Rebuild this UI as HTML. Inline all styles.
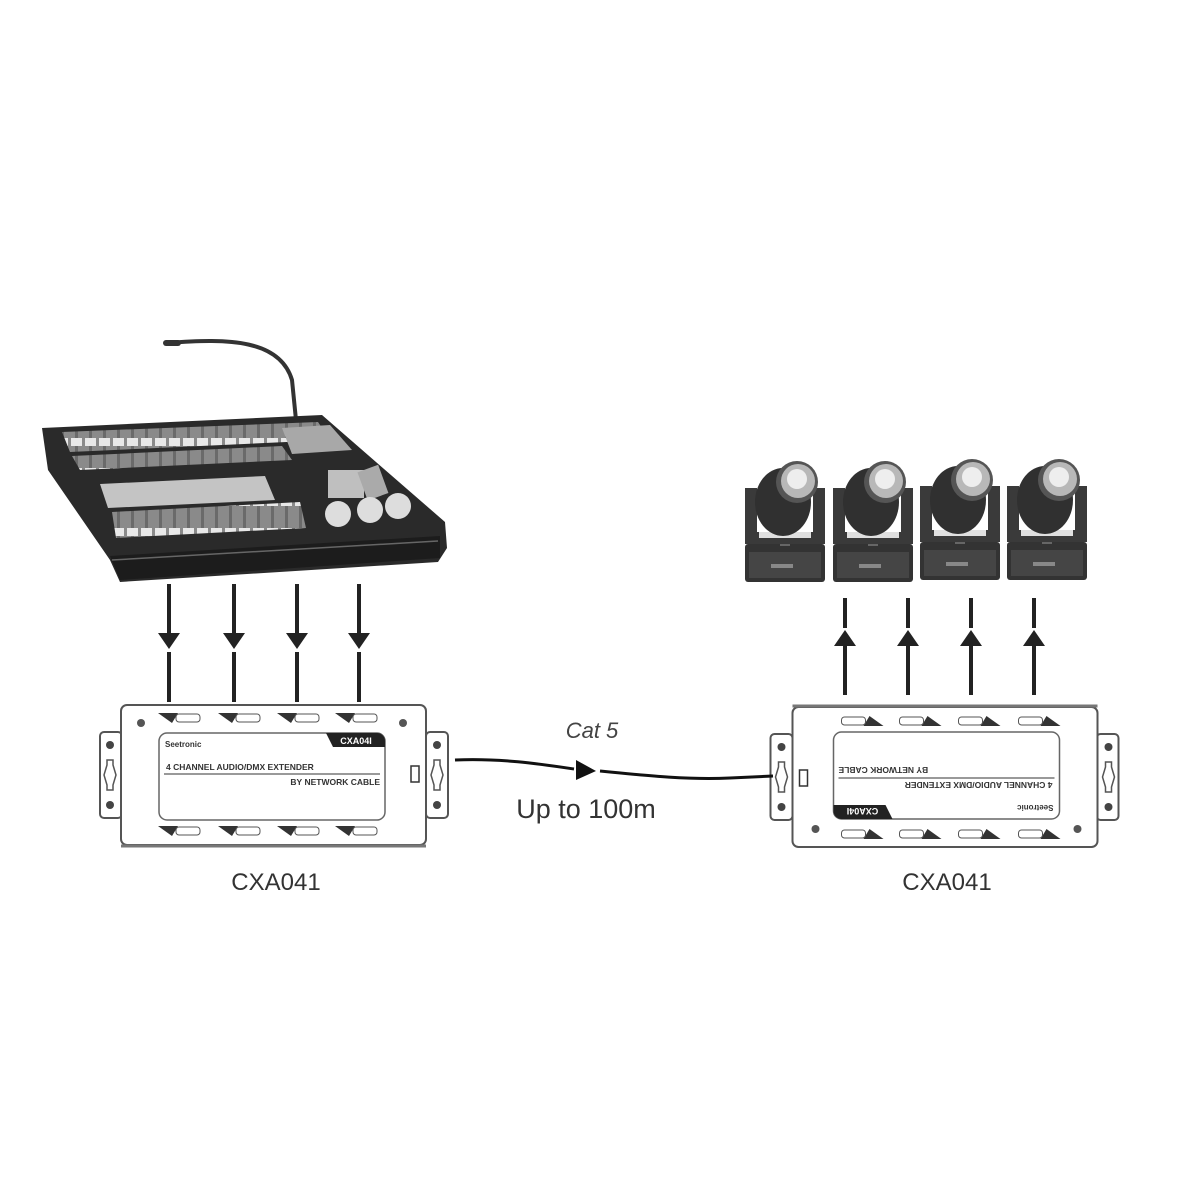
<!DOCTYPE html>
<html><head><style>html,body{margin:0;padding:0;background:#fff}svg{display:block}</style></head>
<body>
<svg width="1200" height="1200" viewBox="0 0 1200 1200" xmlns="http://www.w3.org/2000/svg" font-family="Liberation Sans, Arial, sans-serif">
<defs>
<pattern id="fad" width="14" height="30" patternUnits="userSpaceOnUse">
  <rect width="14" height="30" fill="#8a8a8a"/>
  <rect x="5" y="0" width="3" height="30" fill="#6a6a6a"/>
  <rect x="1" y="18" width="11" height="8" fill="#e8e8e8"/>
</pattern>
<g id="box">
  <rect x="100" y="732" width="22" height="86" rx="4" fill="#fff" stroke="#555" stroke-width="2"/>
  <rect x="426" y="732" width="22" height="86" rx="4" fill="#fff" stroke="#555" stroke-width="2"/>
  <circle cx="110" cy="745" r="4" fill="#444"/><circle cx="110" cy="805" r="4" fill="#444"/>
  <circle cx="437" cy="745" r="4" fill="#444"/><circle cx="437" cy="805" r="4" fill="#444"/>
  <path d="M107 760 h6 v5 l3 10 l-3 10 v5 h-6 v-5 l-3 -10 l3 -10 z" fill="none" stroke="#555" stroke-width="1.5"/>
  <path d="M434 760 h6 v5 l3 10 l-3 10 v5 h-6 v-5 l-3 -10 l3 -10 z" fill="none" stroke="#555" stroke-width="1.5"/>
  <rect x="121" y="705" width="305" height="140" rx="6" fill="#fff" stroke="#555" stroke-width="2"/>
  <line x1="121" y1="846" x2="426" y2="846" stroke="#777" stroke-width="3"/>
  <circle cx="141" cy="723" r="4" fill="#555"/><circle cx="403" cy="723" r="4" fill="#555"/>
  <g fill="#333">
    <path d="M158 713 h20 l-6 10 z"/><rect x="176" y="714" width="24" height="8" rx="3" fill="none" stroke="#555"/>
    <path d="M218 713 h20 l-6 10 z"/><rect x="236" y="714" width="24" height="8" rx="3" fill="none" stroke="#555"/>
    <path d="M277 713 h20 l-6 10 z"/><rect x="295" y="714" width="24" height="8" rx="3" fill="none" stroke="#555"/>
    <path d="M335 713 h20 l-6 10 z"/><rect x="353" y="714" width="24" height="8" rx="3" fill="none" stroke="#555"/>
    <path d="M158 826 h20 l-6 10 z"/><rect x="176" y="827" width="24" height="8" rx="3" fill="none" stroke="#555"/>
    <path d="M218 826 h20 l-6 10 z"/><rect x="236" y="827" width="24" height="8" rx="3" fill="none" stroke="#555"/>
    <path d="M277 826 h20 l-6 10 z"/><rect x="295" y="827" width="24" height="8" rx="3" fill="none" stroke="#555"/>
    <path d="M335 826 h20 l-6 10 z"/><rect x="353" y="827" width="24" height="8" rx="3" fill="none" stroke="#555"/>
  </g>
  <rect x="159" y="733" width="226" height="87" rx="8" fill="#fff" stroke="#666" stroke-width="1.5"/>
  <path d="M326 733 h51 a8 8 0 0 1 8 8 v6 h-52 z" fill="#222"/>
  <text x="356" y="744" font-size="9" font-weight="bold" fill="#fff" text-anchor="middle">CXA04I</text>
  <text x="165" y="747" font-size="8" font-weight="bold" fill="#333">Seetronic</text>
  <text x="166" y="770" font-size="8.5" font-weight="bold" fill="#333">4 CHANNEL AUDIO/DMX EXTENDER</text>
  <line x1="164" y1="774" x2="380" y2="774" stroke="#333" stroke-width="1"/>
  <text x="380" y="785" font-size="8.5" font-weight="bold" fill="#333" text-anchor="end">BY NETWORK CABLE</text>
  <rect x="411" y="766" width="8" height="16" fill="#fff" stroke="#333" stroke-width="1.5"/>
</g>
<g id="head">
  <rect x="-40" y="82" width="80" height="38" rx="3" fill="#333"/>
  <rect x="-36" y="90" width="72" height="26" fill="#454545"/>
  <rect x="-14" y="102" width="22" height="4" fill="#888"/>
  <rect x="-5" y="72" width="10" height="12" fill="#666"/>
  <path d="M-40 26 h12 v44 h56 v-44 h12 v56 h-80 z" fill="#3a3a3a"/>
  <path d="M-26 70 h52 v6 h-52 z" fill="#e0e0e0"/>
  <ellipse cx="-2" cy="40" rx="28" ry="34" fill="#303030"/>
  <circle cx="12" cy="20" r="21" fill="#555"/>
  <circle cx="13" cy="19" r="17" fill="#b8b8b8"/>
  <circle cx="12" cy="17" r="10" fill="#eee"/>
</g>
</defs>
<rect width="1200" height="1200" fill="#fff"/>

<!-- console -->
<path d="M168 343 C 230 338, 280 340, 292 380 L 296 420" fill="none" stroke="#333" stroke-width="4"/>
<rect x="163" y="340" width="18" height="6" rx="3" fill="#333"/>
<path d="M42 428 L322 415 L445 522 L447 548 L438 562 L120 582 L110 560 L48 470 Z" fill="#2a2a2a"/>
<path d="M110 556 L440 536 L440 558 L120 580 Z" fill="#1c1c1c"/>
<path d="M112 560 L438 541" stroke="#666" stroke-width="1.5"/>
<path d="M62 432 L318 422 L330 440 L70 452 Z" fill="url(#fad)"/>
<path d="M72 456 L282 446 L292 460 L80 470 Z" fill="url(#fad)"/>
<path d="M282 428 L330 425 L352 450 L292 454 Z" fill="#a8a8a8"/>
<path d="M100 484 L265 476 L275 500 L108 508 Z" fill="#c4c4c4"/>
<path d="M112 512 L300 502 L306 528 L116 538 Z" fill="url(#fad)"/>
<rect x="328" y="470" width="36" height="28" fill="#bfbfbf"/>
<rect x="362" y="468" width="22" height="30" fill="#aaa" transform="rotate(-20 372 483)"/>
<circle cx="338" cy="514" r="13" fill="#ddd"/><circle cx="370" cy="510" r="13" fill="#ddd"/><circle cx="398" cy="506" r="13" fill="#ddd"/>

<g stroke="#222" stroke-width="4">
  <line x1="169" y1="584" x2="169" y2="640"/><line x1="169" y1="652" x2="169" y2="702"/>
  <line x1="234" y1="584" x2="234" y2="640"/><line x1="234" y1="652" x2="234" y2="702"/>
  <line x1="297" y1="584" x2="297" y2="640"/><line x1="297" y1="652" x2="297" y2="702"/>
  <line x1="359" y1="584" x2="359" y2="640"/><line x1="359" y1="652" x2="359" y2="702"/>
</g>
<g fill="#222">
  <path d="M158 633 h22 l-11 16 z"/><path d="M223 633 h22 l-11 16 z"/>
  <path d="M286 633 h22 l-11 16 z"/><path d="M348 633 h22 l-11 16 z"/>
</g>

<use href="#box"/>
<use href="#box" transform="translate(1218.5 1552) rotate(180)"/>

<path d="M455 760 C 500 758, 540 764, 574 769" fill="none" stroke="#111" stroke-width="3"/>
<path d="M576 760 L596 771 L576 780 Z" fill="#111"/>
<path d="M600 771 C 650 776, 690 780, 730 778 L 773 776" fill="none" stroke="#111" stroke-width="3"/>
<text x="592" y="738" font-size="22" font-style="italic" fill="#444" text-anchor="middle">Cat 5</text>
<text x="586" y="818" font-size="27" fill="#333" text-anchor="middle">Up to 100m</text>
<text x="276" y="890" font-size="24" fill="#333" text-anchor="middle">CXA041</text>
<text x="947" y="890" font-size="24" fill="#333" text-anchor="middle">CXA041</text>

<use href="#head" transform="translate(785 462)"/>
<use href="#head" transform="translate(873 462)"/>
<use href="#head" transform="translate(960 460)"/>
<use href="#head" transform="translate(1047 460)"/>

<g stroke="#222" stroke-width="4">
  <line x1="845" y1="598" x2="845" y2="628"/><line x1="845" y1="640" x2="845" y2="695"/>
  <line x1="908" y1="598" x2="908" y2="628"/><line x1="908" y1="640" x2="908" y2="695"/>
  <line x1="971" y1="598" x2="971" y2="628"/><line x1="971" y1="640" x2="971" y2="695"/>
  <line x1="1034" y1="598" x2="1034" y2="628"/><line x1="1034" y1="640" x2="1034" y2="695"/>
</g>
<g fill="#222">
  <path d="M834 646 h22 l-11 -16 z"/><path d="M897 646 h22 l-11 -16 z"/>
  <path d="M960 646 h22 l-11 -16 z"/><path d="M1023 646 h22 l-11 -16 z"/>
</g>
</svg>
</body></html>
